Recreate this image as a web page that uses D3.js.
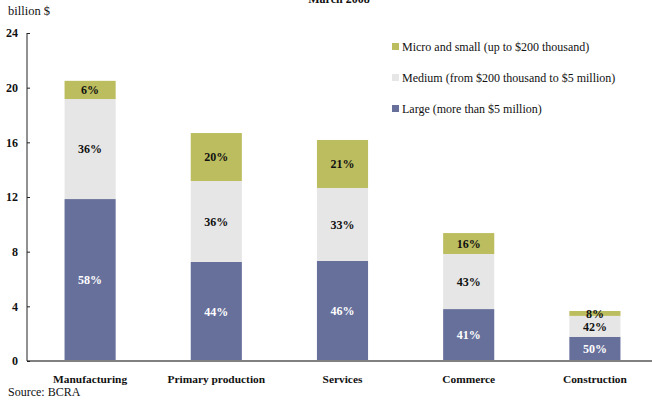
<!DOCTYPE html>
<html>
<head>
<meta charset="utf-8">
<script src="https://cdn.jsdelivr.net/npm/d3@7"></script>
<style>
  body { margin: 0; background: #fff; }
  svg { display: block; }
</style>
</head>
<body>
<div id="chart"></div>
<script>
// sectors and stacked values (billion $)
const categories = ["Manufacturing", "Primary production", "Services", "Commerce", "Construction"];
const largeValues = [11.85, 7.25, 7.32, 3.80, 1.77];
const mediumValues = [7.32, 5.92, 5.34, 4.03, 1.53];
const smallValues = [1.33, 3.51, 3.51, 1.53, 0.36];
const largeLabels = ["58%", "44%", "46%", "41%", "50%"];
const mediumLabels = ["36%", "36%", "33%", "43%", "42%"];
const smallLabels = ["6%", "20%", "21%", "16%", "8%"];
const yTicks = [0, 4, 8, 12, 16, 20, 24];
const seriesNames = [
  "Micro and small (up to $200 thousand)",
  "Medium (from $200 thousand to $5 million)",
  "Large (more than $5 million)"
];

const width = 652, height = 401;
const margins = { top: 33, bottom: 40, left: 27 };
const font = "Liberation Serif";

const svg = d3.select("#chart").append("svg")
  .attr("width", width)
  .attr("height", height)
  .attr("font-family", font);

const x = d3.scaleBand()
  .domain(categories)
  .range([margins.left, 658])
  .paddingInner(0.595)
  .paddingOuter(0.2975);

const y = d3.scaleLinear()
  .domain([0, 24])
  .range([height - margins.bottom, margins.top]);

const colors = { small: "#bbbd5f", medium: "#e6e6e6", large: "#67709b" };

const rows = categories.map((c, i) => ({
  cat: c,
  large: largeValues[i],
  medium: mediumValues[i],
  small: smallValues[i]
}));

const series = d3.stack().keys(["large", "medium", "small"])(rows);
const labelSets = { large: largeLabels, medium: mediumLabels, small: smallLabels };

// bars
const segG = svg.append("g");
series.forEach((s) => {
  segG.append("g")
    .selectAll("rect")
    .data(s)
    .join("rect")
    .attr("x", (d) => x(d.data.cat))
    .attr("width", x.bandwidth())
    .attr("y", (d) => y(d[1]))
    .attr("height", (d) => y(d[0]) - y(d[1]))
    .attr("fill", colors[s.key]);
});

// percentage labels
series.forEach((s) => {
  segG.append("g")
    .selectAll("text")
    .data(s)
    .join("text")
    .attr("x", (d) => x(d.data.cat) + x.bandwidth() / 2)
    .attr("y", (d) => (y(d[0]) + y(d[1])) / 2)
    .attr("dy", "0.35em")
    .attr("text-anchor", "middle")
    .attr("font-size", "12px")
    .attr("font-weight", "bold")
    .attr("fill", s.key === "large" ? "#fff" : "#111")
    .text((d, i) => labelSets[s.key][i]);
});

// x axis baseline
svg.append("line")
  .attr("x1", margins.left).attr("x2", width)
  .attr("y1", y(0)).attr("y2", y(0))
  .attr("stroke", "#808080").attr("stroke-width", 2);

// y axis
const yAxisG = svg.append("g")
  .attr("transform", `translate(${margins.left},0)`)
  .call(d3.axisLeft(y).tickValues(yTicks).tickSize(-3).tickPadding(9))
  .attr("font-family", font);
yAxisG.select(".domain").attr("stroke", "#222").attr("d", `M0,${y(24)}V${y(0)}`);
yAxisG.selectAll(".tick line").attr("stroke", "#222");
yAxisG.selectAll("text")
  .attr("font-size", "12px")
  .attr("font-weight", "bold")
  .attr("fill", "#111");

// category labels
svg.append("g")
  .selectAll("text")
  .data(categories)
  .join("text")
  .attr("x", (d) => x(d) + x.bandwidth() / 2)
  .attr("y", 383)
  .attr("text-anchor", "middle")
  .attr("font-size", "11.4px")
  .attr("font-weight", "bold")
  .attr("fill", "#111")
  .text((d) => d);

// legend
const legendColors = [colors.small, colors.medium, colors.large];
const legendG = svg.append("g").attr("transform", "translate(392,43)");
seriesNames.forEach((name, i) => {
  const row = legendG.append("g").attr("transform", `translate(0,${i * 31})`);
  row.append("rect").attr("width", 7).attr("height", 7).attr("fill", legendColors[i]);
  row.append("text")
    .attr("x", 10).attr("y", 4)
    .attr("dy", "0.35em")
    .attr("font-size", "12px")
    .attr("fill", "#111")
    .text(name);
});

// unit, title (cropped at the top edge as in the source) and source
svg.append("text").attr("x", 8).attr("y", 15).attr("font-size", "12.5px").attr("fill", "#111").text("billion $");
svg.append("text").attr("x", 339).attr("y", 3).attr("text-anchor", "middle")
  .attr("font-size", "12px").attr("font-weight", "bold").attr("fill", "#111").text("March 2008");
svg.append("text").attr("x", 8).attr("y", 396).attr("font-size", "12px").attr("fill", "#111").text("Source: BCRA");
</script>
</body>
</html>
